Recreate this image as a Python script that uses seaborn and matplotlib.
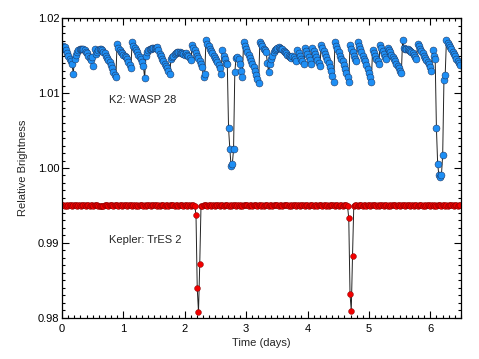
import numpy as np
import pandas as pd
import matplotlib
matplotlib.use("Agg")
import matplotlib.pyplot as plt
from matplotlib.ticker import MultipleLocator, FormatStrFormatter
import seaborn as sns

# ---------------- data ----------------
cadence_days = 0.0204  # long-cadence sampling (days)

# K2: WASP 28 relative flux, offsets from 1 in units of 1e-4
k2_offsets = [
    158, 163, 161, 157, 153, 149, 146, 143, 138, 126,
    146, 151, 155, 157, 158, 159, 159, 158, 157, 155, 153, 150, 147, 144, 148, 136,
    159, 152, 155, 157, 158, 158, 157, 155, 153, 150, 147, 144, 141, 137, 133, 128, 124, 121,
    166, 160, 157, 155, 153, 151, 150, 148, 146, 141, 137, 133,
    168, 163, 160, 157, 154, 151, 148, 145, 141, 136, 120,
    150, 155, 157, 158, 159, 160, 160, 160, 160, 161, 157, 152, 149, 146, 142, 139, 136, 133, 130, 125,
    145, 148, 150, 152, 153, 154, 154, 154, 153, 153, 152, 151, 153, 151, 149, 147, 144,
    164, 160, 157, 153, 150, 147, 143, 139, 134, 121, 126,
    171, 166, 162, 159, 156, 153, 150, 147, 144, 141, 137, 133, 125,
    157, 150, 146, 140, 138, 53, 26, 3, 5, 25, 128,
    147, 148, 145, 138, 130, 121,
    168, 163, 159, 155, 151, 147, 143, 139, 134, 129, 124, 118, 113,
    168, 165, 162, 159, 157, 155, 140, 128,
    138, 145, 150, 154, 157, 159, 160, 161, 160, 159, 158, 156, 154, 153, 151, 150, 148, 147, 150, 148, 145, 142,
    157, 153, 150, 146, 142, 138, 160, 156, 152, 148, 144, 139, 160, 156, 152, 148, 144, 140, 136, 164,
    160, 156, 152, 148, 144, 140, 135, 130, 123, 115,
    168, 163, 158, 154, 150, 146, 142, 137, 132, 127, 121, 115,
    164, 159, 155, 150, 146, 142, 168, 163, 158, 154, 150, 146, 142, 137, 132, 127, 121, 115,
    157, 153, 150, 146, 143, 139,
    164, 160, 156, 152, 148, 145, 160, 157, 154, 151, 148, 145, 142, 139, 136, 133, 130, 127,
    171, 160, 159, 159, 158, 157, 156, 155, 153, 151, 148, 145,
    165, 162, 159, 156, 153, 150, 147, 144, 141, 138, 134, 130,
    157, 150, 146, 53, 5, -10, -12, -9, 17, 117, 124, 171,
    167, 164, 161, 158, 155, 152, 149, 146, 143, 140, 137,
]

# Kepler: TrES 2 relative flux, offsets from 1 in units of 1e-5
kepler_offsets = [
    -500, -498, -501, -499, -502, -500, -497, -499, -501, -500, -498, -500, -502, -499, -500, -501, -498, -500, -499, -501,
    -499, -500, -502, -498, -500, -501, -499, -497, -500, -502, -503, -505, -504, -501, -499, -500, -498, -501, -500, -499,
    -500, -502, -499, -498, -500, -501, -499, -500, -502, -500, -497, -499, -501, -500, -498, -500, -501, -499, -500, -502,
    -499, -501, -500, -498, -499, -501, -500, -502, -499, -498, -500, -501, -499, -500, -497, -499, -501, -500, -502, -499,
    -500, -498, -501, -499, -500, -502, -500, -499, -497, -500, -501, -499, -500, -502, -499, -498, -500, -501, -499, -500,
    -501, -499, -500, -502, -499, -500, -503, -621, -1604, -1920, -1280, -508, -501, -499, -500, -498, -501, -500, -499, -502,
    -500, -499, -501, -500, -498, -500, -502, -499, -500, -501, -499, -498, -500, -501, -500, -502, -499, -500, -498, -501,
    -500, -499, -501, -500, -502, -499, -500, -498, -500, -501, -499, -500, -502, -500, -498, -499, -501, -500, -499, -501,
    -500, -502, -499, -500, -498, -501, -500, -499, -501, -500, -497, -499, -500, -502, -500, -499, -501, -498, -500, -500,
    -499, -501, -500, -502, -499, -498, -500, -501, -499, -500, -502, -500, -498, -499, -501, -500, -499, -501, -500, -498,
    -500, -501, -499, -500, -502, -499, -500, -498, -501, -500, -499, -501, -500, -502, -499, -500, -498, -500, -501, -499,
    -500, -502, -499, -500, -501, -499, -498, -500, -504, -670, -1680, -1903, -1170, -506, -500, -499, -501, -500, -498, -500,
    -501, -499, -500, -502, -500, -499, -501, -498, -500, -500, -499, -501, -500, -502, -499, -500, -498, -501, -500, -499,
    -501, -500, -502, -499, -500, -498, -500, -501, -499, -500, -502, -500, -497, -499, -501, -500, -498, -500, -501, -499,
    -500, -502, -499, -500, -501, -499, -498, -500, -501, -500, -502, -499, -500, -498, -501, -500, -499, -501, -500, -502,
    -499, -500, -498, -501, -500, -499, -501, -500, -502, -499, -500, -498, -500, -501, -499, -500, -502, -500, -499,
]

series_labels = ["K2: WASP 28", "Kepler: TrES 2"]
x_ticks = [0, 1, 2, 3, 4, 5, 6]
y_ticks = [0.98, 0.99, 1.00, 1.01, 1.02]

k2 = pd.DataFrame({
    "time": np.arange(len(k2_offsets)) * cadence_days,
    "flux": 1.0 + np.array(k2_offsets) * 1e-4,
})
kep = pd.DataFrame({
    "time": np.arange(len(kepler_offsets)) * cadence_days,
    "flux": 1.0 + np.array(kepler_offsets) * 1e-5,
})

# ---------------- plot ----------------
sns.set_style("ticks")
plt.rcParams["font.family"] = ["Liberation Sans", "DejaVu Sans"]

fig = plt.figure(figsize=(4.79, 3.59), dpi=100)
ax = fig.add_axes([62 / 479, 1 - 318 / 359, 399 / 479, 300 / 359])

sns.lineplot(data=kep, x="time", y="flux", sort=False, estimator=None, ax=ax,
             color="#222222", linewidth=0.7, marker="o", markersize=4.2,
             markerfacecolor="#f00000", markeredgecolor="#7a0000", markeredgewidth=0.3)
sns.lineplot(data=k2, x="time", y="flux", sort=False, estimator=None, ax=ax,
             color="#222222", linewidth=0.7, marker="o", markersize=5.0,
             markerfacecolor="#1e8ff5", markeredgecolor="#1c2f55", markeredgewidth=0.35)

ax.set_xlim(0, 6.5)
ax.set_ylim(0.98, 1.02)
ax.set_xticks(x_ticks)
ax.set_yticks(y_ticks)
ax.xaxis.set_minor_locator(MultipleLocator(0.1))
ax.yaxis.set_minor_locator(MultipleLocator(0.001))
ax.yaxis.set_major_formatter(FormatStrFormatter("%.2f"))
ax.tick_params(which="both", direction="in", top=True, right=True, colors="black",
               labelsize=8, width=0.8)
ax.tick_params(which="major", length=5)
ax.tick_params(which="minor", length=2.5)
ax.tick_params(axis="y", which="major", pad=2)
ax.tick_params(axis="x", which="major", pad=4)
for s in ax.spines.values():
    s.set_color("black")
    s.set_linewidth(0.9)

ax.set_xlabel("Time (days)", fontsize=8, labelpad=3)
ax.set_ylabel("Relative Brightness", fontsize=8, labelpad=7)

ax.text(0.77, 1.0091, series_labels[0], fontsize=8, ha="left", va="center")
ax.text(0.77, 0.9904, series_labels[1], fontsize=8, ha="left", va="center")

fig.savefig("out.png", dpi=100)
